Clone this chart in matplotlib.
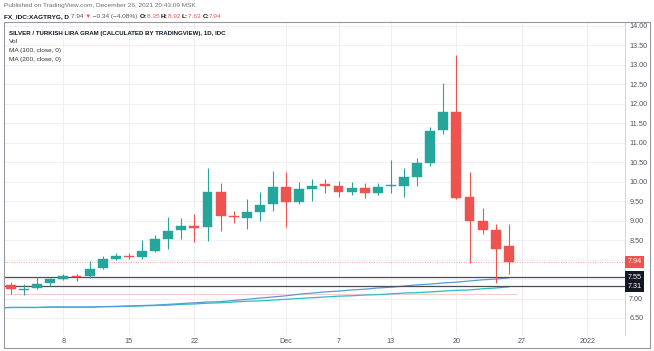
import matplotlib
matplotlib.use("Agg")
import matplotlib.pyplot as plt
from matplotlib.patches import Rectangle
from matplotlib.transforms import blended_transform_factory
import pandas as pd
import numpy as np

# ---------------- data ----------------
candle_dates = pd.bdate_range("2021-11-02", "2021-12-24")
opens  = [7.35, 7.21, 7.26, 7.39, 7.51, 7.58, 7.59, 7.78, 8.01, 8.10,
          8.06, 8.23, 8.53, 8.76, 8.85, 8.84, 9.74, 9.12, 9.08, 9.22,
          9.43, 9.86, 9.49, 9.82, 9.93, 9.90, 9.74, 9.83, 9.71, 9.88,
          9.89, 10.13, 10.47, 11.32, 11.79, 9.60, 8.98, 8.76, 8.35]
highs  = [7.42, 7.37, 7.55, 7.53, 7.64, 7.64, 7.96, 8.09, 8.16, 8.16,
          8.50, 8.64, 9.10, 9.06, 9.16, 10.34, 9.96, 9.25, 9.55, 9.73,
          10.28, 10.24, 9.98, 10.07, 10.07, 10.03, 9.98, 9.96, 9.96, 10.56,
          10.36, 10.60, 11.40, 12.53, 13.25, 10.26, 9.32, 8.91, 8.92]
lows   = [7.12, 7.08, 7.25, 7.33, 7.47, 7.44, 7.52, 7.76, 7.99, 8.01,
          8.01, 8.19, 8.26, 8.53, 8.46, 8.48, 8.73, 8.95, 8.78, 9.00,
          9.25, 8.84, 9.43, 9.51, 9.72, 9.60, 9.67, 9.59, 9.67, 9.70,
          9.62, 9.90, 10.40, 11.23, 9.55, 7.92, 8.65, 7.41, 7.63]
closes = [7.24, 7.23, 7.37, 7.49, 7.58, 7.54, 7.77, 8.02, 8.10, 8.07,
          8.23, 8.53, 8.74, 8.87, 8.81, 9.74, 9.13, 9.09, 9.22, 9.40,
          9.86, 9.49, 9.82, 9.90, 9.90, 9.74, 9.83, 9.71, 9.86, 9.89,
          10.13, 10.47, 11.31, 11.79, 9.58, 8.98, 8.77, 8.26, 7.94]

ma_dates = pd.bdate_range("2021-11-01", "2021-12-24")
ma100 = [6.76, 6.77, 6.77, 6.77, 6.78, 6.78, 6.78, 6.78, 6.79, 6.80,
         6.81, 6.82, 6.83, 6.85, 6.87, 6.89, 6.91, 6.92, 6.95, 6.98,
         7.01, 7.04, 7.07, 7.11, 7.14, 7.17, 7.19, 7.22, 7.24, 7.27,
         7.29, 7.32, 7.35, 7.37, 7.40, 7.42, 7.45, 7.48, 7.50, 7.53]
ma200 = [6.76, 6.77, 6.77, 6.77, 6.78, 6.78, 6.78, 6.78, 6.79, 6.79,
         6.80, 6.81, 6.82, 6.83, 6.85, 6.86, 6.88, 6.89, 6.91, 6.93,
         6.94, 6.96, 6.98, 7.00, 7.02, 7.04, 7.06, 7.07, 7.09, 7.10,
         7.12, 7.14, 7.15, 7.17, 7.19, 7.21, 7.22, 7.25, 7.27, 7.30]

hlines_levels = [7.55, 7.31]
last_price = 7.94
faint_level = 7.12

tick_dates = ["2021-11-08", "2021-11-15", "2021-11-22", "2021-12-01", "2021-12-07",
              "2021-12-13", "2021-12-20", "2021-12-27", "2022-01-03"]
tick_labels = ["8", "15", "22", "Dec", "7", "13", "20", "27", "2022"]

price_ticks = [6.5, 7.0, 7.5, 8.0, 8.5, 9.0, 9.5, 10.0, 10.5, 11.0, 11.5, 12.0, 12.5, 13.0, 13.5, 14.0]
hidden_ticks = [7.5, 8.0]

# ---------------- layout ----------------
W, H = 654, 351
timeline = pd.bdate_range("2021-11-01", "2022-01-14")
origin = timeline.get_loc(candle_dates[0])
def idx(d):
    return timeline.get_loc(pd.Timestamp(d)) - origin

UP, DOWN = "#26a69a", "#ef5350"
TXT = "#50535e"
FONT = ["Liberation Sans", "DejaVu Sans"]
plt.rcParams["font.family"] = FONT

fig = plt.figure(figsize=(W / 100, H / 100), dpi=100)
fig.patch.set_facecolor("white")

def fx(x): return x / W
def fy(y): return 1 - y / H

ax = fig.add_axes([fx(4), fy(335), fx(625) - fx(4), fy(22) - fy(335)])
ax.set_facecolor("white")

# x scaling: bar 0 at px 11, 13.1 px per bar
ax.set_xlim((4 - 11) / 13.1, (625 - 11) / 13.1)
ax.set_ylim(14 - (335 - 26) / 38.93, 14 + (26 - 22) / 38.93)

tick_pos = [idx(d) for d in tick_dates]
for p in price_ticks:
    ax.axhline(p, color="#f0f1f4", lw=0.7, zorder=0)
for t in tick_pos:
    ax.axvline(t, color="#f3eff1", lw=0.7, zorder=0)

# moving averages
ma_x = [idx(d) for d in ma_dates]
ax.plot(ma_x, ma200, color="#2bbbc9", lw=0.9, zorder=2)
ax.plot(ma_x, ma100, color="#5b9bd5", lw=0.9, zorder=2)

# horizontal lines
for lv in hlines_levels:
    ax.axhline(lv, color="#4a4d57", lw=0.9, zorder=3)
ax.axhline(last_price, color="#f2a0a0", lw=0.7, ls=(0, (1, 1.5)), zorder=1)
ax.plot([ax.get_xlim()[0], idx("2021-12-27") - 0.4], [faint_level, faint_level],
        color="#f6cccc", lw=0.8, zorder=1)

# candles
cx = np.array([idx(d) for d in candle_dates])
o = np.array(opens); c = np.array(closes); hi = np.array(highs); lo = np.array(lows)
cols = [UP if cc >= oo else DOWN for oo, cc in zip(o, c)]
ax.vlines(cx, lo, hi, colors=cols, lw=0.8, zorder=4)
body_lo = np.minimum(o, c)
body_h = np.maximum(np.abs(c - o), 0.025)
ax.bar(cx, body_h, bottom=body_lo, width=0.76, color=cols, edgecolor=cols,
       linewidth=0.3, zorder=5)

# axes styling
for s in ["left", "top", "bottom"]:
    ax.spines[s].set_visible(False)
ax.spines["right"].set_color("#d1d4dc")
ax.spines["right"].set_linewidth(0.7)

ax.yaxis.tick_right()
ax.set_yticks(price_ticks)
ax.set_yticklabels(["" if p in hidden_ticks else f"{p:.2f}" for p in price_ticks])
ax.tick_params(axis="y", length=0, pad=3, labelsize=5.2, labelcolor=TXT)
ax.set_xticks(tick_pos)
ax.set_xticklabels(tick_labels)
ax.tick_params(axis="x", length=0, pad=2.5, labelsize=5.2, labelcolor=TXT)

# price labels
tr = blended_transform_factory(ax.transAxes, ax.transData)
for lv, fc in [(last_price, DOWN), (7.55, "#131722"), (7.31, "#131722")]:
    ax.text(1.004, lv, f"{lv:.2f}", transform=tr, ha="left", va="center",
            fontsize=5.2, color="white", clip_on=False, zorder=10,
            bbox=dict(boxstyle="square,pad=0.3", fc=fc, ec="none"))

# outer border
fig.add_artist(Rectangle((fx(4), fy(348)), fx(650) - fx(4), fy(22) - fy(348),
                         transform=fig.transFigure, fill=False, ec="#9598a1", lw=0.8))

# header texts
fig.canvas.draw()
rend = fig.canvas.get_renderer()

def seq_text(x, y, parts, size):
    cur = x
    for s, col, w in parts:
        t = fig.text(fx(cur), fy(y), s, color=col, fontsize=size, fontweight=w,
                     ha="left", va="center")
        bb = t.get_window_extent(rend)
        cur += bb.width

HS = 4.65
fig.text(fx(4), fy(6), "Published on TradingView.com, December 26, 2021 20:43:09 MSK",
         color="#6a6d78", fontsize=HS, ha="left", va="center")
DK = "#131722"
seq_text(4, 16.5, [("FX_IDC:XAGTRYG, D ", DK, "bold"),
                   ("7.94 ", "#555", "normal"),
                   ("▼", DOWN, "normal"),
                   (" \u22120.34 (\u22124.08%) ", "#555", "normal"),
                   ("O:", DK, "bold"), ("8.35 ", DOWN, "normal"),
                   ("H:", DK, "bold"), ("8.92 ", DOWN, "normal"),
                   ("L:", DK, "bold"), ("7.63 ", DOWN, "normal"),
                   ("C:", DK, "bold"), ("7.94", DOWN, "normal")], HS)

fig.text(fx(9), fy(33.3), "SILVER / TURKISH LIRA GRAM (CALCULATED BY TRADINGVIEW), 1D, IDC",
         color=DK, fontsize=4.45, fontweight="bold", ha="left", va="center")
for yy, s in [(41.5, "Vol"), (50.7, "MA (100, close, 0)"), (59.5, "MA (200, close, 0)")]:
    fig.text(fx(9), fy(yy), s, color="#333", fontsize=HS, ha="left", va="center")

fig.savefig("out.png", dpi=100, facecolor="white")
